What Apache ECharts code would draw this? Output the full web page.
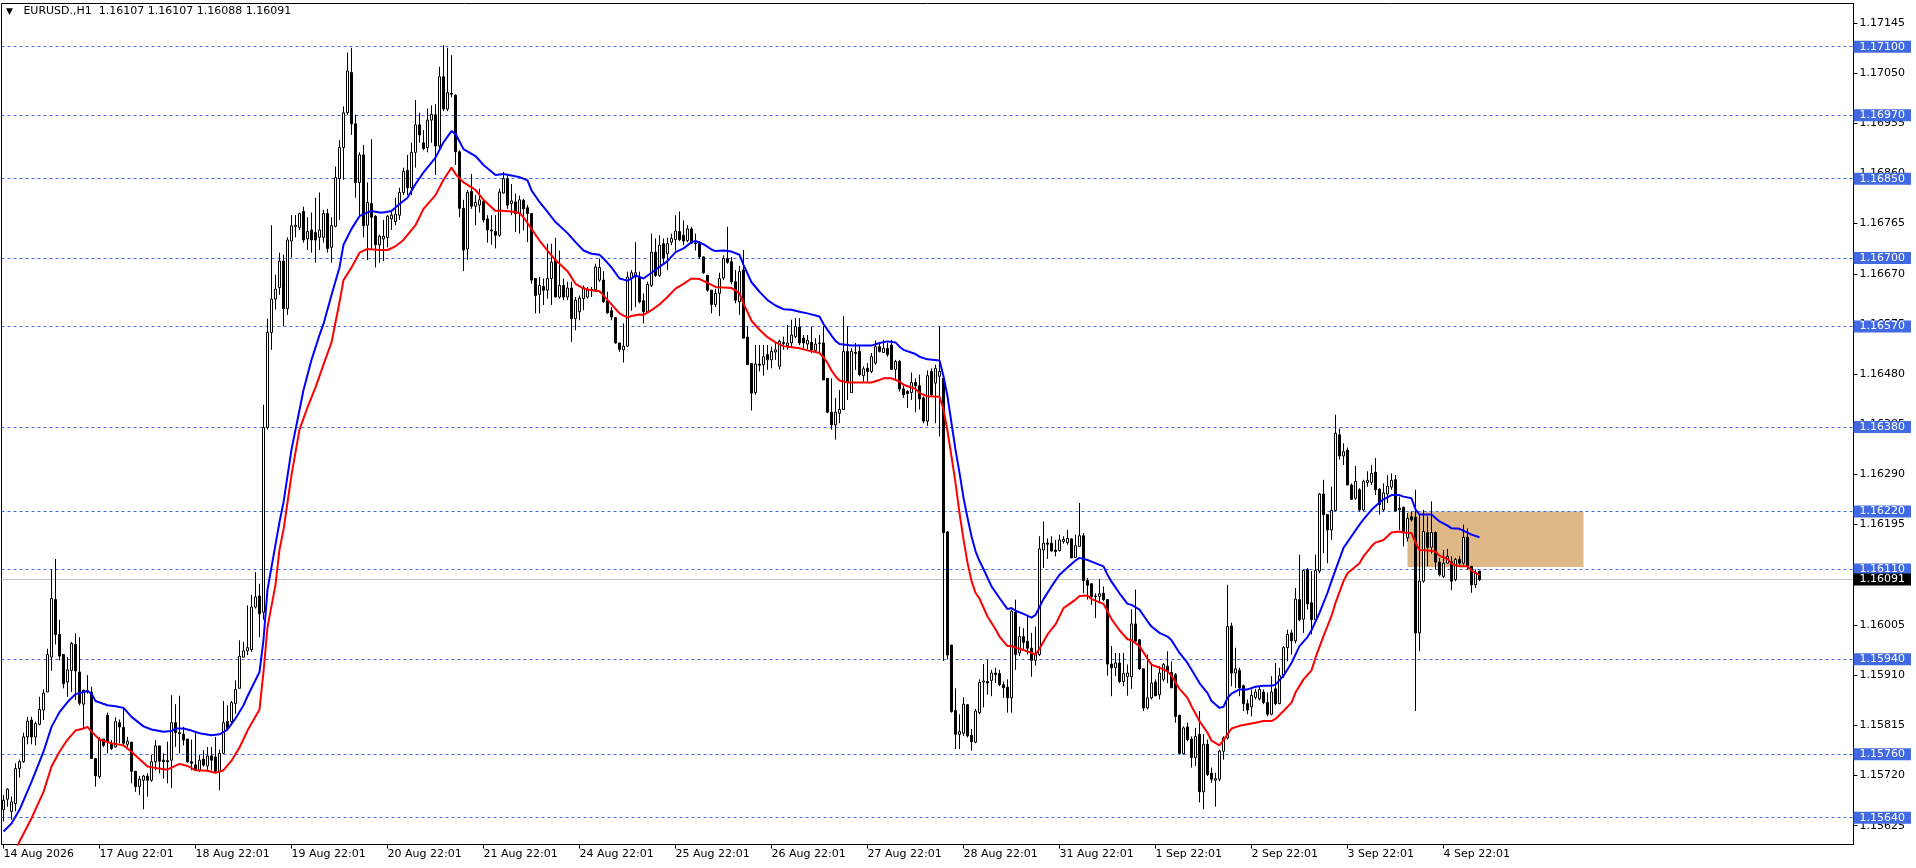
<!DOCTYPE html>
<html>
<head>
<meta charset="utf-8">
<script src="https://cdn.jsdelivr.net/npm/echarts@6/dist/echarts.min.js"></script>
<style>
html,body{margin:0;padding:0;background:#fff;}
#c{width:1916px;height:868px;}
</style>
</head>
<body>
<div id="c"></div>
<script>
// ---- data ----
const titleText = 'EURUSD.,H1  1.16107 1.16107 1.16088 1.16091';
const xTickLabels = ['14 Aug 2026','17 Aug 22:01','18 Aug 22:01','19 Aug 22:01','20 Aug 22:01','21 Aug 22:01','24 Aug 22:01','25 Aug 22:01','26 Aug 22:01','27 Aug 22:01','28 Aug 22:01','31 Aug 22:01','1 Sep 22:01','2 Sep 22:01','3 Sep 22:01','4 Sep 22:01'];
const xTickBars = [0,24,48,72,96,120,144,168,192,216,240,264,288,312,336,360];
const slotCount = 463;
const yTicks = [1.15625,1.15720,1.15815,1.15910,1.16005,1.16100,1.16195,1.16290,1.16385,1.16480,1.16575,1.16670,1.16765,1.16860,1.16955,1.17050,1.17145];
const levels = [1.17100,1.16970,1.16850,1.16700,1.16570,1.16380,1.16220,1.16110,1.15940,1.15760,1.15640];
const lastPrice = 1.16091;
const zoneBars = [351, 395];
const zonePrices = [1.16115, 1.16220];

// [open, high, low, close]
const ohlc = [
[1.15655,1.15683,1.15633,1.15673],[1.15675,1.15696,1.15661,1.15694],[1.15652,1.15680,1.15636,1.15670],[1.15667,1.15743,1.15652,1.15733],
[1.15733,1.15750,1.15716,1.15746],[1.15746,1.15801,1.15744,1.15793],[1.15793,1.15831,1.15779,1.15823],[1.15825,1.15831,1.15779,1.15793],
[1.15793,1.15822,1.15777,1.15818],[1.15817,1.15869,1.15815,1.15845],[1.15844,1.15883,1.15825,1.15876],[1.15878,1.15960,1.15878,1.15949],
[1.15944,1.16110,1.15918,1.16055],[1.16053,1.16130,1.15968,1.15987],[1.15987,1.16015,1.15938,1.15946],[1.15949,1.15949,1.15885,1.15894],
[1.15897,1.15944,1.15869,1.15920],[1.15919,1.15973,1.15878,1.15970],[1.15968,1.15989,1.15863,1.15918],[1.15916,1.15982,1.15853,1.15857],
[1.15855,1.15883,1.15809,1.15881],[1.15881,1.15910,1.15875,1.15878],[1.15878,1.15888,1.15752,1.15752],[1.15752,1.15752,1.15699,1.15719],
[1.15718,1.15793,1.15714,1.15787],[1.15789,1.15789,1.15774,1.15777],[1.15834,1.15839,1.15762,1.15784],[1.15779,1.15787,1.15768,1.15771],
[1.15774,1.15830,1.15773,1.15822],[1.15820,1.15826,1.15781,1.15812],[1.15811,1.15847,1.15777,1.15781],[1.15779,1.15793,1.15774,1.15785],
[1.15783,1.15784,1.15705,1.15728],[1.15728,1.15728,1.15689,1.15699],[1.15699,1.15719,1.15683,1.15713],[1.15711,1.15721,1.15656,1.15719],
[1.15719,1.15724,1.15680,1.15711],[1.15711,1.15759,1.15708,1.15746],[1.15746,1.15787,1.15730,1.15776],[1.15776,1.15776,1.15724,1.15747],
[1.15749,1.15762,1.15714,1.15746],[1.15748,1.15784,1.15705,1.15746],[1.15749,1.15872,1.15696,1.15820],[1.15820,1.15855,1.15774,1.15801],
[1.15801,1.15871,1.15762,1.15799],[1.15798,1.15812,1.15777,1.15787],[1.15789,1.15789,1.15744,1.15746],[1.15746,1.15788,1.15730,1.15743],
[1.15740,1.15800,1.15729,1.15730],[1.15730,1.15759,1.15727,1.15749],[1.15751,1.15768,1.15737,1.15740],[1.15738,1.15774,1.15727,1.15757],
[1.15757,1.15774,1.15730,1.15749],[1.15755,1.15793,1.15727,1.15728],[1.15727,1.15769,1.15692,1.15762],[1.15762,1.15861,1.15762,1.15820],
[1.15822,1.15853,1.15806,1.15809],[1.15822,1.15861,1.15817,1.15858],[1.15856,1.15900,1.15837,1.15883],[1.15885,1.15976,1.15885,1.15946],
[1.15944,1.15973,1.15944,1.15956],[1.15956,1.16042,1.15948,1.15962],
[1.15958,1.16062,1.15954,1.16039],[1.16039,1.16105,1.16036,1.16058],[1.16060,1.16083,1.15982,1.16026],[1.16029,1.16422,1.16015,1.16379],
[1.16379,1.16585,1.16375,1.16559],[1.16559,1.16762,1.16526,1.16622],[1.16622,1.16668,1.16602,1.16641],[1.16644,1.16710,1.16630,1.16694],
[1.16694,1.16706,1.16571,1.16604],[1.16604,1.16739,1.16592,1.16734],[1.16732,1.16781,1.16701,1.16761],[1.16759,1.16781,1.16739,1.16762],
[1.16758,1.16786,1.16753,1.16784],[1.16788,1.16797,1.16729,1.16734],[1.16736,1.16777,1.16715,1.16750],[1.16753,1.16786,1.16710,1.16734],
[1.16748,1.16814,1.16691,1.16734],[1.16739,1.16824,1.16715,1.16753],[1.16739,1.16791,1.16729,1.16784],[1.16784,1.16793,1.16710,1.16718],
[1.16720,1.16777,1.16691,1.16761],[1.16760,1.16873,1.16758,1.16852],[1.16850,1.16923,1.16772,1.16909],[1.16909,1.16987,1.16848,1.16975],
[1.16975,1.17089,1.16971,1.17054],[1.17051,1.17098,1.16933,1.16954],[1.16954,1.16971,1.16814,1.16843],[1.16843,1.16900,1.16777,1.16895],
[1.16895,1.16914,1.16739,1.16761],[1.16762,1.16843,1.16696,1.16805],[1.16803,1.16925,1.16715,1.16777],[1.16779,1.16781,1.16682,1.16725],
[1.16725,1.16744,1.16691,1.16741],[1.16736,1.16772,1.16694,1.16741],[1.16739,1.16781,1.16720,1.16779],[1.16774,1.16791,1.16753,1.16781],
[1.16769,1.16814,1.16762,1.16783],[1.16781,1.16833,1.16772,1.16824],[1.16824,1.16871,1.16819,1.16864],[1.16866,1.16895,1.16819,1.16833],
[1.16833,1.16918,1.16819,1.16900],[1.16900,1.16999,1.16871,1.16952],[1.16952,1.16975,1.16918,1.16933],[1.16918,1.16942,1.16904,1.16907],
[1.16909,1.16983,1.16900,1.16961],[1.16961,1.16989,1.16918,1.16972],[1.16971,1.16991,1.16857,1.16912],[1.16912,1.17062,1.16904,1.17043],
[1.17043,1.17103,1.16978,1.16982],[1.16982,1.17098,1.16978,1.17013],[1.17012,1.17084,1.17004,1.17010],[1.17008,1.17010,1.16876,1.16901],
[1.16901,1.16904,1.16777,1.16794],[1.16794,1.16810,1.16675,1.16715],[1.16717,1.16829,1.16696,1.16824],[1.16826,1.16859,1.16793,1.16798],
[1.16798,1.16819,1.16762,1.16805],[1.16800,1.16831,1.16786,1.16810],[1.16807,1.16810,1.16767,1.16772],[1.16774,1.16781,1.16729,1.16753],
[1.16753,1.16781,1.16725,1.16751],
[1.16750,1.16781,1.16718,1.16743],[1.16743,1.16831,1.16740,1.16825],[1.16823,1.16863,1.16822,1.16850],[1.16850,1.16856,1.16793,1.16800],
[1.16803,1.16840,1.16781,1.16808],[1.16806,1.16822,1.16749,1.16784],[1.16784,1.16818,1.16746,1.16810],[1.16809,1.16812,1.16752,1.16793],
[1.16795,1.16800,1.16730,1.16784],[1.16784,1.16784,1.16651,1.16658],[1.16661,1.16661,1.16595,1.16629],[1.16631,1.16664,1.16595,1.16648],
[1.16646,1.16661,1.16611,1.16639],[1.16639,1.16727,1.16623,1.16661],[1.16661,1.16727,1.16611,1.16692],[1.16696,1.16738,1.16626,1.16626],
[1.16626,1.16714,1.16623,1.16648],[1.16648,1.16661,1.16620,1.16626],[1.16626,1.16655,1.16620,1.16643],[1.16643,1.16655,1.16541,1.16585],
[1.16585,1.16626,1.16563,1.16620],[1.16598,1.16629,1.16582,1.16624],[1.16623,1.16648,1.16601,1.16644],[1.16626,1.16645,1.16623,1.16639],
[1.16640,1.16645,1.16626,1.16639],[1.16640,1.16689,1.16639,1.16683],[1.16658,1.16699,1.16655,1.16682],[1.16658,1.16675,1.16615,1.16617],
[1.16619,1.16636,1.16594,1.16596],[1.16600,1.16607,1.16582,1.16588],[1.16587,1.16587,1.16538,1.16539],[1.16539,1.16539,1.16522,1.16527],
[1.16526,1.16576,1.16502,1.16533],[1.16533,1.16674,1.16532,1.16664],[1.16661,1.16677,1.16600,1.16672],[1.16664,1.16730,1.16607,1.16672],
[1.16664,1.16674,1.16614,1.16617],[1.16619,1.16633,1.16576,1.16598],[1.16598,1.16655,1.16598,1.16650],[1.16648,1.16746,1.16645,1.16711],
[1.16711,1.16737,1.16664,1.16667],[1.16667,1.16743,1.16664,1.16724],[1.16727,1.16737,1.16689,1.16700],[1.16708,1.16738,1.16677,1.16727],
[1.16730,1.16746,1.16724,1.16737],[1.16735,1.16781,1.16714,1.16751],[1.16750,1.16788,1.16732,1.16735],[1.16743,1.16771,1.16724,1.16732],
[1.16733,1.16762,1.16730,1.16755],[1.16755,1.16759,1.16727,1.16728],[1.16728,1.16746,1.16714,1.16727],[1.16727,1.16732,1.16699,1.16702],
[1.16702,1.16703,1.16670,1.16672],[1.16667,1.16667,1.16636,1.16639],[1.16639,1.16639,1.16595,1.16612],[1.16612,1.16642,1.16607,1.16633],
[1.16633,1.16672,1.16590,1.16661],[1.16662,1.16705,1.16658,1.16699],[1.16699,1.16759,1.16689,1.16692],[1.16693,1.16702,1.16650,1.16655],
[1.16655,1.16677,1.16614,1.16620],[1.16617,1.16685,1.16592,1.16674],[1.16677,1.16715,1.16548,1.16548],[1.16550,1.16570,1.16498,1.16498],
[1.16500,1.16500,1.16411,1.16444],[1.16445,1.16535,1.16441,1.16499],[1.16499,1.16535,1.16485,1.16497],[1.16498,1.16535,1.16477,1.16513],
[1.16517,1.16535,1.16488,1.16507],[1.16507,1.16532,1.16491,1.16523],[1.16522,1.16539,1.16507,1.16526],[1.16495,1.16545,1.16489,1.16542],
[1.16540,1.16551,1.16526,1.16538],[1.16534,1.16573,1.16526,1.16539],[1.16539,1.16583,1.16532,1.16554],[1.16551,1.16586,1.16548,1.16570],
[1.16569,1.16586,1.16535,1.16539],[1.16548,1.16554,1.16529,1.16539],[1.16537,1.16554,1.16526,1.16544],[1.16540,1.16570,1.16520,1.16526],
[1.16525,1.16548,1.16523,1.16537],[1.16538,1.16554,1.16520,1.16539],[1.16539,1.16571,1.16469,1.16469],[1.16472,1.16472,1.16406,1.16408],
[1.16408,1.16472,1.16375,1.16384],[1.16384,1.16435,1.16356,1.16408],[1.16406,1.16450,1.16387,1.16413],[1.16413,1.16590,1.16413,1.16523],
[1.16523,1.16571,1.16431,1.16466],[1.16445,1.16529,1.16445,1.16523],[1.16521,1.16539,1.16488,1.16519],[1.16523,1.16535,1.16476,1.16479],
[1.16477,1.16495,1.16466,1.16490],[1.16491,1.16501,1.16466,1.16485],[1.16485,1.16520,1.16482,1.16513],[1.16501,1.16544,1.16498,1.16532],
[1.16532,1.16540,1.16521,1.16523],[1.16521,1.16545,1.16520,1.16529],[1.16529,1.16539,1.16513,1.16517],[1.16535,1.16545,1.16488,1.16489],
[1.16489,1.16507,1.16469,1.16504],[1.16504,1.16507,1.16447,1.16452],[1.16452,1.16460,1.16435,1.16441],[1.16447,1.16450,1.16416,1.16443],
[1.16445,1.16483,1.16431,1.16464],[1.16464,1.16472,1.16408,1.16458],[1.16458,1.16479,1.16413,1.16433],[1.16435,1.16438,1.16387,1.16391],
[1.16391,1.16487,1.16382,1.16477],[1.16485,1.16491,1.16438,1.16441],[1.16463,1.16498,1.16387,1.16491],[1.16476,1.16571,1.16362,1.16485],
[1.16472,1.16476,1.15937,1.16180],[1.16181,1.16183,1.15940,1.15948],[1.15967,1.15967,1.15839,1.15841],[1.15843,1.15885,1.15770,1.15798],
[1.15798,1.15836,1.15770,1.15803],[1.15800,1.15868,1.15795,1.15855],[1.15854,1.15855,1.15792,1.15795],[1.15796,1.15808,1.15767,1.15784],
[1.15783,1.15846,1.15781,1.15842],[1.15839,1.15902,1.15836,1.15896],[1.15897,1.15931,1.15849,1.15899],
[1.15898,1.15939,1.15873,1.15895],[1.15900,1.15920,1.15870,1.15914],[1.15914,1.15924,1.15895,1.15911],[1.15913,1.15920,1.15889,1.15892],
[1.15892,1.15898,1.15867,1.15886],[1.15887,1.15902,1.15839,1.15867],[1.15867,1.16034,1.15839,1.16031],[1.16029,1.16053,1.15920,1.15949],
[1.15952,1.16002,1.15946,1.15983],[1.15983,1.15999,1.15958,1.15972],[1.15974,1.16024,1.15949,1.15961],[1.15961,1.15990,1.15907,1.15938],
[1.15938,1.16002,1.15928,1.15949],[1.15949,1.16173,1.15946,1.16149],[1.16147,1.16201,1.16113,1.16160],[1.16160,1.16169,1.16130,1.16158],
[1.16160,1.16173,1.16144,1.16145],[1.16147,1.16166,1.16135,1.16144],[1.16146,1.16176,1.16144,1.16166],[1.16163,1.16173,1.16159,1.16167],
[1.16161,1.16185,1.16157,1.16169],[1.16168,1.16169,1.16132,1.16132],[1.16133,1.16176,1.16132,1.16155],[1.16154,1.16236,1.16154,1.16174],
[1.16174,1.16179,1.16065,1.16089],[1.16089,1.16094,1.16053,1.16080],[1.16083,1.16084,1.16043,1.16059],[1.16060,1.16065,1.16018,1.16059],
[1.16059,1.16092,1.16046,1.16064],[1.16065,1.16078,1.16050,1.16053],[1.16053,1.16053,1.15909,1.15931],[1.15931,1.15965,1.15870,1.15924],
[1.15924,1.15952,1.15908,1.15933],[1.15933,1.15952,1.15895,1.15898],[1.15898,1.15952,1.15889,1.15913],[1.15907,1.15930,1.15871,1.15914],
[1.15907,1.16035,1.15884,1.16007],[1.16007,1.16072,1.15972,1.15974],[1.15977,1.15978,1.15920,1.15922],[1.15922,1.15922,1.15842,1.15848],
[1.15848,1.15949,1.15845,1.15867],[1.15867,1.15933,1.15864,1.15895],[1.15897,1.15902,1.15870,1.15871],[1.15873,1.15927,1.15864,1.15914],
[1.15902,1.15933,1.15898,1.15930],[1.15927,1.15955,1.15895,1.15917],[1.15915,1.15936,1.15886,1.15886],[1.15911,1.15914,1.15820,1.15832],
[1.15834,1.15835,1.15760,1.15762],[1.15761,1.15813,1.15760,1.15810],[1.15812,1.15820,1.15785,1.15788],[1.15789,1.15794,1.15735,1.15754],
[1.15754,1.15810,1.15738,1.15794],[1.15798,1.15842,1.15669,1.15689],[1.15689,1.15798,1.15656,1.15779],[1.15779,1.15788,1.15719,1.15722],
[1.15724,1.15735,1.15706,1.15713],[1.15711,1.15725,1.15661,1.15714],[1.15713,1.15769,1.15709,1.15766],[1.15766,1.15794,1.15750,1.15791],
[1.15791,1.16081,1.15788,1.16002],
[1.16003,1.16009,1.15889,1.15914],[1.15914,1.15962,1.15886,1.15922],[1.15919,1.15924,1.15870,1.15886],[1.15890,1.15892,1.15842,1.15856],
[1.15856,1.15864,1.15836,1.15844],[1.15850,1.15883,1.15832,1.15872],[1.15868,1.15884,1.15864,1.15878],[1.15865,1.15889,1.15862,1.15883],
[1.15878,1.15883,1.15855,1.15858],[1.15858,1.15877,1.15832,1.15836],[1.15836,1.15908,1.15834,1.15878],[1.15884,1.15933,1.15853,1.15856],
[1.15856,1.15924,1.15855,1.15909],[1.15909,1.15965,1.15905,1.15962],[1.15962,1.15996,1.15936,1.15987],[1.15990,1.15996,1.15949,1.15975],
[1.15975,1.16075,1.15970,1.16054],[1.16053,1.16138,1.16012,1.16015],[1.16016,1.16110,1.15990,1.16108],[1.16110,1.16113,1.16034,1.16045],
[1.16047,1.16107,1.15987,1.16015],[1.16015,1.16138,1.16012,1.16108],[1.16107,1.16255,1.16103,1.16253],[1.16253,1.16280,1.16141,1.16214],
[1.16214,1.16214,1.16122,1.16185],[1.16185,1.16267,1.16166,1.16222],[1.16222,1.16403,1.16220,1.16368],[1.16365,1.16377,1.16318,1.16325],
[1.16325,1.16349,1.16308,1.16333],[1.16336,1.16341,1.16270,1.16270],[1.16270,1.16273,1.16242,1.16243],[1.16245,1.16306,1.16242,1.16277],
[1.16261,1.16264,1.16220,1.16223],[1.16223,1.16280,1.16220,1.16277],[1.16275,1.16296,1.16267,1.16279],[1.16275,1.16308,1.16270,1.16292],
[1.16294,1.16321,1.16251,1.16261],[1.16262,1.16264,1.16214,1.16233],[1.16223,1.16273,1.16220,1.16255],[1.16253,1.16289,1.16236,1.16268],
[1.16266,1.16292,1.16261,1.16279],[1.16280,1.16289,1.16220,1.16221],[1.16223,1.16248,1.16185,1.16226],[1.16228,1.16229,1.16154,1.16182],
[1.16170,1.16217,1.16163,1.16207],[1.16210,1.16220,1.16201,1.16204],[1.16209,1.16261,1.15842,1.15990],[1.15990,1.16214,1.15955,1.16088],
[1.16088,1.16223,1.16085,1.16182],[1.16180,1.16211,1.16116,1.16152],[1.16152,1.16239,1.16140,1.16180],[1.16180,1.16182,1.16110,1.16124],
[1.16124,1.16132,1.16097,1.16100],[1.16097,1.16147,1.16094,1.16122],[1.16122,1.16149,1.16122,1.16135],[1.16125,1.16135,1.16071,1.16088],
[1.16091,1.16132,1.16088,1.16129],[1.16129,1.16135,1.16119,1.16122],[1.16122,1.16195,1.16119,1.16171],[1.16171,1.16188,1.16110,1.16116],
[1.16116,1.16116,1.16066,1.16081],[1.16081,1.16110,1.16075,1.16103],[1.16107,1.16107,1.16088,1.16091]
];

// blue moving average, sampled [bar, value]
const blueMA = [[0,1.15614],[2,1.15629],[4,1.15655],[7,1.15708],[10,1.15765],[12,1.15812],[14,1.15840],[16,1.15859],[18,1.15874],[21,1.15880],[22,1.15875],[23,1.15861],[26,1.15853],[28,1.15851],[30,1.15848],[32,1.15831],[35,1.15813],[37,1.15807],[40,1.15803],[42,1.15804],[43,1.15809],[45,1.15809],[47,1.15805],[49,1.15800],[52,1.15796],[54,1.15798],[56,1.15807],[58,1.15828],[60,1.15853],[61,1.15870],[64,1.15916],[65,1.15977],[66,1.16072],[68,1.16157],[69,1.16200],[70,1.16237],[72,1.16337],[74,1.16412],[75,1.16450],[77,1.16507],[79,1.16554],[80,1.16575],[82,1.16630],[84,1.16682],[85,1.16725],[87,1.16755],[89,1.16779],[90,1.16783],[92,1.16789],[94,1.16786],[95,1.16786],[97,1.16789],[99,1.16802],[101,1.16814],[103,1.16840],[105,1.16862],[108,1.16890],[110,1.16919],[112,1.16940],[113,1.16935],[115,1.16906],[118,1.16893],[120,1.16876],[123,1.16857],[125,1.16859],[127,1.16856],[129,1.16853],[131,1.16847],[132,1.16828],[134,1.16806],[136,1.16787],[138,1.16768],[141,1.16747],[143,1.16730],[145,1.16714],[147,1.16708],[149,1.16706],[150,1.16699],[152,1.16682],[154,1.16661],[156,1.16657],[157,1.16661],[158,1.16667],[160,1.16661],[162,1.16672],[164,1.16683],[166,1.16694],[168,1.16711],[170,1.16718],[172,1.16730],[173,1.16732],[175,1.16726],[177,1.16716],[178,1.16713],[180,1.16714],[182,1.16712],[184,1.16706],[185,1.16687],[187,1.16654],[189,1.16636],[191,1.16620],[193,1.16610],[195,1.16603],[197,1.16602],[199,1.16598],[201,1.16595],[204,1.16589],[205,1.16575],[207,1.16553],[208,1.16543],[209,1.16537],[212,1.16534],[215,1.16534],[217,1.16534],[219,1.16539],[221,1.16542],[223,1.16540],[224,1.16532],[225,1.16526],[228,1.16518],[229,1.16513],[231,1.16508],[234,1.16506],[235,1.16476],[236,1.16438],[237,1.16387],[238,1.16337],[239,1.16293],[240,1.16246],[241,1.16208],[242,1.16173],[243,1.16145],[244,1.16126],[245,1.16111],[247,1.16078],[249,1.16056],[251,1.16035],[252,1.16037],[253,1.16032],[255,1.16026],[257,1.16019],[258,1.16024],[260,1.16054],[262,1.16078],[264,1.16100],[266,1.16114],[268,1.16127],[269,1.16132],[271,1.16128],[272,1.16125],[275,1.16116],[276,1.16100],[277,1.16087],[279,1.16065],[281,1.16045],[282,1.16043],[284,1.16034],[286,1.16012],[287,1.16002],[289,1.15990],[291,1.15983],[292,1.15976],[294,1.15952],[296,1.15933],[298,1.15908],[299,1.15895],[301,1.15876],[302,1.15861],[304,1.15848],[305,1.15850],[306,1.15867],[307,1.15875],[309,1.15883],[311,1.15883],[313,1.15888],[315,1.15890],[317,1.15890],[318,1.15892],[320,1.15909],[322,1.15933],[324,1.15965],[326,1.15982],[327,1.15995],[329,1.16028],[331,1.16066],[332,1.16088],[334,1.16130],[335,1.16151],[337,1.16173],[339,1.16195],[340,1.16205],[342,1.16223],[344,1.16237],[345,1.16243],[347,1.16251],[349,1.16251],[350,1.16248],[352,1.16245],[353,1.16224],[354,1.16214],[356,1.16214],[357,1.16214],[359,1.16201],[361,1.16193],[362,1.16188],[364,1.16187],[366,1.16180],[367,1.16176],[369,1.16171]];

// red moving average, sampled [bar, value]
const redMA = [[2,1.15560],[4,1.15595],[7,1.15639],[10,1.15689],[12,1.15737],[14,1.15765],[16,1.15788],[18,1.15805],[20,1.15809],[21,1.15812],[22,1.15803],[24,1.15788],[27,1.15781],[30,1.15777],[32,1.15765],[36,1.15737],[39,1.15733],[41,1.15731],[42,1.15735],[44,1.15742],[46,1.15738],[48,1.15730],[51,1.15729],[53,1.15725],[55,1.15730],[57,1.15748],[59,1.15773],[61,1.15805],[64,1.15845],[65,1.15916],[66,1.16001],[68,1.16081],[69,1.16148],[70,1.16185],[72,1.16289],[74,1.16375],[76,1.16417],[78,1.16455],[80,1.16498],[82,1.16540],[84,1.16616],[85,1.16658],[87,1.16682],[89,1.16710],[91,1.16717],[94,1.16715],[96,1.16715],[98,1.16722],[100,1.16734],[103,1.16762],[105,1.16793],[108,1.16819],[110,1.16848],[112,1.16871],[113,1.16859],[115,1.16843],[118,1.16829],[120,1.16810],[123,1.16789],[124,1.16790],[127,1.16788],[129,1.16785],[130,1.16777],[132,1.16755],[134,1.16733],[136,1.16714],[138,1.16696],[141,1.16675],[143,1.16651],[145,1.16642],[147,1.16639],[149,1.16637],[150,1.16629],[152,1.16612],[154,1.16595],[156,1.16587],[157,1.16590],[159,1.16593],[160,1.16592],[162,1.16601],[164,1.16612],[166,1.16626],[168,1.16642],[170,1.16651],[172,1.16661],[174,1.16660],[176,1.16653],[178,1.16645],[180,1.16644],[182,1.16643],[183,1.16638],[184,1.16633],[185,1.16614],[187,1.16581],[189,1.16564],[191,1.16550],[193,1.16540],[195,1.16533],[197,1.16531],[199,1.16529],[201,1.16525],[203,1.16522],[204,1.16520],[205,1.16512],[206,1.16501],[207,1.16487],[208,1.16476],[209,1.16468],[211,1.16464],[214,1.16464],[217,1.16464],[219,1.16469],[220,1.16472],[222,1.16472],[224,1.16466],[225,1.16460],[228,1.16452],[229,1.16444],[231,1.16438],[234,1.16437],[235,1.16413],[236,1.16372],[237,1.16324],[238,1.16274],[239,1.16217],[240,1.16167],[241,1.16123],[242,1.16088],[243,1.16066],[244,1.16055],[246,1.16021],[248,1.15997],[249,1.15983],[251,1.15965],[252,1.15965],[254,1.15960],[256,1.15955],[258,1.15949],[259,1.15960],[261,1.15987],[263,1.16006],[265,1.16037],[266,1.16042],[268,1.16053],[269,1.16060],[271,1.16061],[272,1.16054],[275,1.16045],[276,1.16031],[277,1.16016],[279,1.15995],[281,1.15978],[282,1.15976],[284,1.15965],[286,1.15941],[287,1.15930],[289,1.15924],[291,1.15917],[292,1.15909],[294,1.15884],[296,1.15867],[297,1.15851],[299,1.15823],[301,1.15801],[302,1.15786],[304,1.15777],[305,1.15787],[307,1.15809],[309,1.15814],[311,1.15817],[313,1.15820],[315,1.15823],[317,1.15823],[318,1.15827],[320,1.15842],[322,1.15858],[323,1.15877],[325,1.15902],[327,1.15919],[328,1.15943],[330,1.15984],[332,1.16022],[333,1.16047],[335,1.16088],[336,1.16103],[339,1.16122],[340,1.16135],[342,1.16154],[343,1.16161],[345,1.16166],[347,1.16180],[349,1.16182],[350,1.16180],[352,1.16179],[353,1.16161],[354,1.16147],[356,1.16146],[358,1.16144],[359,1.16136],[361,1.16130],[362,1.16121],[364,1.16116],[366,1.16116],[367,1.16108],[369,1.16100]];

// ---- build ----
const categories = [];
for (let i = 0; i < slotCount; i++) categories.push('');
xTickBars.forEach((b, k) => { categories[b] = xTickLabels[k]; });

const candleData = ohlc.map(([o, h, l, c]) => [o, c, Math.min(l, o, c), Math.max(h, o, c)]);

const FONT = 'DejaVu Sans';
const LVL = '#4169E1';

function levelItem(v, lineColor, lineType, boxColor) {
  return {
    yAxis: v,
    lineStyle: { color: lineColor, type: lineType, width: 1 },
    label: {
      show: true, position: 'end', distance: 0,
      formatter: () => v.toFixed(5),
      backgroundColor: boxColor, color: '#fff',
      fontFamily: FONT, fontSize: 11, lineHeight: 12,
      padding: [0, 6, 0, 6]
    }
  };
}

const chart = echarts.init(document.getElementById('c'), null, {renderer: 'canvas'});
chart.setOption({
  animation: false,
  backgroundColor: '#ffffff',
  title: {
    left: 6, top: 6, padding: 0,
    text: '{t|▼}   ' + titleText,
    textStyle: {
      fontFamily: FONT, fontSize: 11, fontWeight: 'normal', color: '#000',
      rich: { t: { fontFamily: FONT, fontSize: 9, color: '#000' } }
    }
  },
  grid: {
    left: 1.5, right: 62.5, top: 3.5, bottom: 23.5,
    show: true, borderColor: '#000', borderWidth: 1, backgroundColor: 'transparent'
  },
  xAxis: {
    type: 'category',
    data: categories,
    boundaryGap: true,
    axisLine: { show: true, lineStyle: { color: '#000', width: 1 } },
    axisTick: {
      show: true, alignWithLabel: true, length: 4, inside: false,
      interval: (i, v) => v !== '',
      lineStyle: { color: '#000' }
    },
    axisLabel: {
      show: true, interval: (i, v) => v !== '',
      align: 'left', margin: 4,
      fontFamily: FONT, fontSize: 11, color: '#000'
    },
    splitLine: { show: false }
  },
  yAxis: {
    type: 'value',
    position: 'right',
    min: 1.155893, max: 1.171818,
    scale: true,
    axisLine: { show: true, lineStyle: { color: '#000', width: 1 } },
    axisTick: { show: true, length: 4, inside: false, customValues: yTicks, lineStyle: { color: '#000' } },
    axisLabel: {
      show: true, customValues: yTicks, margin: 6,
      fontFamily: FONT, fontSize: 11, color: '#000',
      formatter: v => Number(v).toFixed(5)
    },
    splitLine: { show: false }
  },
  series: [
    {
      name: 'zone', type: 'line', data: [], z: 1, clip: false, silent: true,
      markArea: {
        silent: true,
        itemStyle: { color: '#DEB887', opacity: 1 },
        data: [[{ xAxis: zoneBars[0], yAxis: zonePrices[1] }, { xAxis: zoneBars[1], yAxis: zonePrices[0] }]]
      }
    },
    {
      name: 'EURUSD', type: 'candlestick', z: 3,
      data: candleData,
      barWidth: 2.5,
      itemStyle: {
        color: '#ffffff', color0: '#000000',
        borderColor: '#000000', borderColor0: '#000000',
        borderColorDoji: '#000000', borderWidth: 1
      },
      markLine: {
        silent: true, symbol: ['none', 'none'], animation: false, z: 2,
        precision: 5,
        data: levels.map(v => levelItem(v, LVL, [3, 3], LVL))
          .concat([levelItem(lastPrice, '#C0C0C0', 'solid', '#000')])
      }
    },
    {
      name: 'MA blue', type: 'line', z: 4, data: blueMA,
      showSymbol: false, symbol: 'none', smooth: false,
      lineStyle: { color: '#0000FF', width: 2 }
    },
    {
      name: 'MA red', type: 'line', z: 4, data: redMA,
      showSymbol: false, symbol: 'none', smooth: false,
      lineStyle: { color: '#FF0000', width: 2 }
    }
  ]
});
</script>
</body>
</html>
